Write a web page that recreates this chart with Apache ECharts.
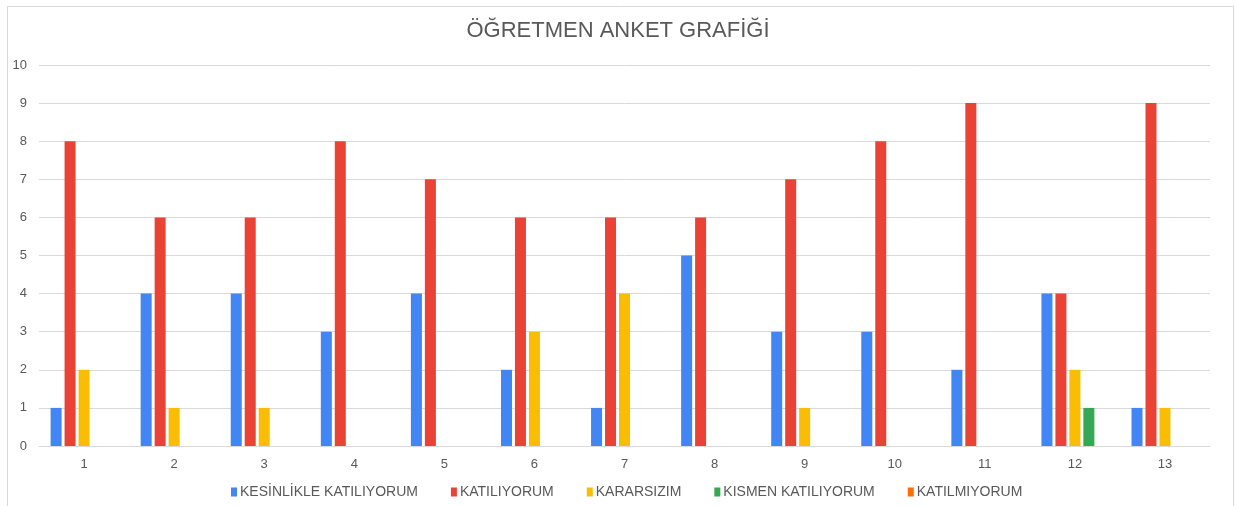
<!DOCTYPE html>
<html>
<head>
<meta charset="utf-8">
<script src="https://cdn.jsdelivr.net/npm/echarts@6/dist/echarts.min.js"></script>
<style>
  html, body { margin: 0; padding: 0; background: #fff; }
  #chart { width: 1236px; height: 506px; }
</style>
</head>
<body>
<div id="chart"></div>
<script>
const categories = ["1", "2", "3", "4", "5", "6", "7", "8", "9", "10", "11", "12", "13"];
const kesinlikle = [1, 4, 4, 3, 4, 2, 1, 5, 3, 3, 2, 4, 1];
const katiliyorum = [8, 6, 6, 8, 7, 6, 6, 6, 7, 8, 9, 4, 9];
const kararsizim = [2, 1, 1, 0, 0, 3, 4, 0, 1, 0, 0, 2, 1];
const kismen = [0, 0, 0, 0, 0, 0, 0, 0, 0, 0, 0, 1, 0];
const katilmiyorum = [0, 0, 0, 0, 0, 0, 0, 0, 0, 0, 0, 0, 0];

const seriesDefs = [
  ["KESİNLİKLE KATILIYORUM", kesinlikle, "#4285F4"],
  ["KATILIYORUM", katiliyorum, "#EA4335"],
  ["KARARSIZIM", kararsizim, "#FBBC04"],
  ["KISMEN KATILIYORUM", kismen, "#34A853"],
  ["KATILMIYORUM", katilmiyorum, "#FF6D01"],
];

const font = "'Liberation Sans', Arial, sans-serif";
const chart = echarts.init(document.getElementById("chart"), null, { renderer: "canvas" });

chart.setOption({
  animation: false,
  textStyle: { fontFamily: font },
  graphic: [{
    type: "rect",
    shape: { x: 7.5, y: 6.5, width: 1226, height: 510 },
    style: { fill: "none", stroke: "#d9d9d9", lineWidth: 1 },
    silent: true
  }],
  title: {
    text: "ÖĞRETMEN ANKET GRAFİĞİ",
    left: "center",
    top: 15,
    textStyle: { fontFamily: font, fontSize: 22, fontWeight: "normal", color: "#595959" }
  },
  legend: {
    bottom: 2,
    left: 226,
    itemWidth: 6,
    itemHeight: 9,
    itemGap: 33,
    icon: "rect",
    textStyle: { fontFamily: font, fontSize: 14, color: "#595959", padding: [0, 0, 0, -2] },
    data: seriesDefs.map(d => d[0])
  },
  grid: { left: 39, right: 26, top: 65, bottom: 60 },
  xAxis: {
    type: "category",
    data: categories,
    axisLine: { show: true, lineStyle: { color: "#d9d9d9" } },
    axisTick: { show: false },
    axisLabel: { color: "#595959", fontSize: 13, margin: 12 }
  },
  yAxis: {
    type: "value",
    min: 0,
    max: 10,
    interval: 1,
    axisLine: { show: false },
    axisTick: { show: false },
    axisLabel: { color: "#595959", fontSize: 13, margin: 12 },
    splitLine: { lineStyle: { color: "#d9d9d9" } }
  },
  series: seriesDefs.map(([name, data, color]) => ({
    name,
    type: "bar",
    data,
    barWidth: 11,
    barGap: "27%",
    itemStyle: { color }
  }))
});
</script>
</body>
</html>
